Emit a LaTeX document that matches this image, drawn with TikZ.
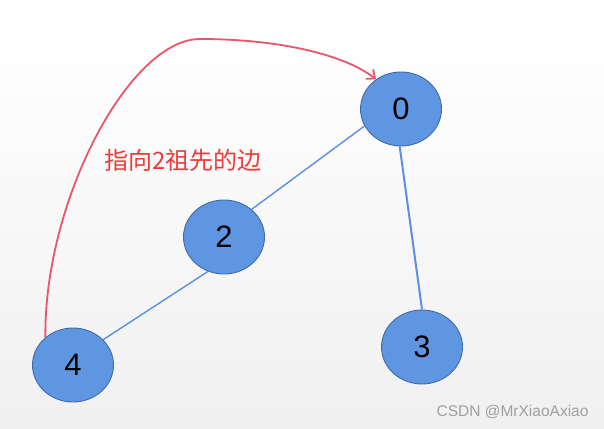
\documentclass[tikz,border=0pt]{standalone}
\usepackage{fontspec}
\setsansfont{Liberation Sans}
\newfontfamily\cjk{Noto Sans CJK SC}
\usetikzlibrary{arrows.meta,shapes.geometric}
\definecolor{vfill}{RGB}{95,150,226}
\definecolor{vline}{RGB}{66,106,166}
\definecolor{eblue}{RGB}{91,143,224}
\definecolor{ered}{RGB}{232,86,107}
\definecolor{tred}{RGB}{240,58,58}
\definecolor{bggray}{RGB}{240,240,240}
\begin{document}
\begin{tikzpicture}[x=1pt, y=-1pt,
  vtx/.style={ellipse, draw=vline, fill=vfill, line width=0.9pt, minimum width=81pt, minimum height=74pt, inner sep=0pt, font=\sffamily\fontsize{31}{31}\selectfont},
  edge/.style={draw=eblue, line width=1.4pt}]
  \useasboundingbox (0,0) rectangle (604,428);
  \shade[top color=white, bottom color=bggray] (0,30) rectangle (604,428);
  \fill[white] (0,0) rectangle (604,30);
  \node[vtx] (n0) at (401,109) {0};
  \node[vtx] (n2) at (224,237) {2};
  \node[vtx] (n3) at (422,347) {3};
  \node[vtx] (n4) at (73,365) {4};
  \draw[edge] (n0.205) -- (n2.45);
  \draw[edge] (n2.245) -- (n4.40);
  \draw[edge, line width=2pt] (n0.268) -- (n3.90);
  \draw[ered, line width=1.8pt, -{Straight Barb[length=7pt, width=12pt]}]
    (n4.135) .. controls (44,200) and (130,39) .. (200,39)
    .. controls (280,39) and (345,55) .. (n0.130);
  \node[text=tred, font=\cjk\fontsize{24}{24}\selectfont] (lbl) at (183,160) {指向2祖先的边};
  \node[text=gray!75, font=\sffamily\fontsize{15.5}{15.5}\selectfont, anchor=east] (mark) at (592,412) {CSDN @MrXiaoAxiao};
\end{tikzpicture}
\end{document}
